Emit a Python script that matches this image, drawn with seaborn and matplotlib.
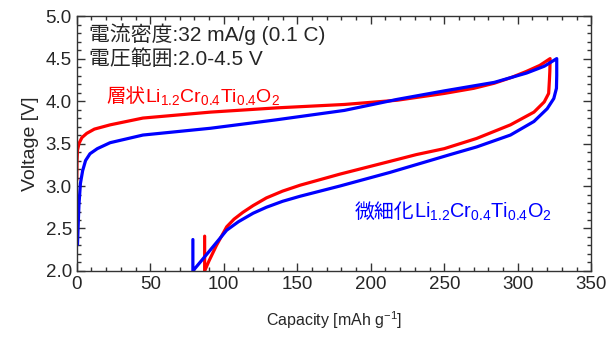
import seaborn as sns
import matplotlib.pyplot as plt
from matplotlib.ticker import MultipleLocator
import pandas as pd

# charge/discharge curves, capacity [mAh/g] vs voltage [V]
layered_cap = [0, 0.2, 0.5, 1.5, 3.5, 6.8, 12, 22.7, 45, 91, 136, 182, 218, 250, 270, 284, 296, 306, 315, 322,
               321.8, 321.5, 321, 318, 311, 295, 272, 250, 231, 213, 179, 152, 140, 129, 120, 113, 107, 102, 95, 90, 87, 87]
layered_v = [3.07, 3.30, 3.42, 3.50, 3.57, 3.62, 3.67, 3.72, 3.80, 3.87, 3.92, 3.96, 4.01, 4.09, 4.15, 4.21, 4.28, 4.35, 4.42, 4.50,
             4.35, 4.24, 4.09, 3.99, 3.87, 3.72, 3.56, 3.44, 3.37, 3.29, 3.14, 3.01, 2.94, 2.86, 2.77, 2.69, 2.61, 2.52, 2.30, 2.12, 2.00, 2.41]

fine_cap = [0.5, 1, 1.5, 2.5, 4, 6, 9, 14, 22.7, 45, 91, 136, 182, 218, 250, 284, 306, 318, 326.5,
            326.5, 326.3, 324.5, 320, 311, 295, 272, 254, 213, 179, 152, 140, 129, 120, 110, 102, 91, 79, 79]
fine_v = [2.31, 2.55, 2.78, 3.03, 3.18, 3.30, 3.38, 3.44, 3.51, 3.60, 3.68, 3.78, 3.89, 4.02, 4.12, 4.22, 4.33, 4.41, 4.50,
          4.30, 4.15, 4.03, 3.91, 3.76, 3.60, 3.46, 3.37, 3.16, 3.00, 2.88, 2.82, 2.75, 2.68, 2.58, 2.48, 2.25, 2.00, 2.37]

sns.set_style("ticks")
plt.rcParams['font.family'] = ['Liberation Sans', 'Noto Sans CJK JP']
plt.rcParams['mathtext.fontset'] = 'custom'
plt.rcParams['mathtext.rm'] = 'Liberation Sans'
plt.rcParams['mathtext.default'] = 'regular'

fig, ax = plt.subplots(figsize=(6.14, 3.43), dpi=100)
fig.subplots_adjust(left=0.125, right=0.963, top=0.953, bottom=0.21)

df_l = pd.DataFrame({"cap": layered_cap, "v": layered_v})
df_f = pd.DataFrame({"cap": fine_cap, "v": fine_v})
sns.lineplot(df_l, x="cap", y="v", sort=False, estimator=None, color="#ff0000", lw=2.3, ax=ax)
sns.lineplot(df_f, x="cap", y="v", sort=False, estimator=None, color="#0000ff", lw=2.3, ax=ax)

ax.set_xlim(0, 350)
ax.set_ylim(2.0, 5.0)
ax.xaxis.set_major_locator(MultipleLocator(50))
ax.xaxis.set_minor_locator(MultipleLocator(10))
ax.yaxis.set_major_locator(MultipleLocator(0.5))
ax.yaxis.set_minor_locator(MultipleLocator(0.1))
ax.yaxis.set_major_formatter(plt.FormatStrFormatter('%.1f'))
ax.tick_params(which='both', direction='in', top=True, right=True, labelsize=13.5, width=1, color='#333333')
ax.tick_params(which='major', length=6)
ax.tick_params(which='minor', length=3)
for s in ax.spines.values():
    s.set_linewidth(1)
    s.set_color('#333333')

ax.set_xlabel("Capacity [mAh g$^{-1}$]", fontsize=11.5, labelpad=12)
ax.set_ylabel("Voltage [V]", fontsize=14, labelpad=5)

ax.text(8, 4.79, "電流密度:32 mA/g (0.1 C)", fontsize=15, va='center', ha='left')
ax.text(8, 4.49, "電圧範囲:2.0-4.5 V", fontsize=15, va='center', ha='left')

t1 = ax.text(20, 3.99, "層状", color='#ff0000', fontsize=14, family=['Noto Sans CJK JP'], va='baseline')
ax.annotate(r"Li$_{1.2}$Cr$_{0.4}$Ti$_{0.4}$O$_{2}$", xy=(1, 0), xycoords=t1, va='bottom',
            color='#ff0000', fontsize=14, family='Liberation Sans')
t2 = ax.text(189, 2.62, "微細化", color='#0000ff', fontsize=14.3, family=['Noto Sans CJK JP'], va='baseline')
ax.annotate(r"Li$_{1.2}$Cr$_{0.4}$Ti$_{0.4}$O$_{2}$", xy=(1, 0), xycoords=t2, va='bottom',
            color='#0000ff', fontsize=14.3, family='Liberation Sans')

fig.savefig("out.png", dpi=100)
